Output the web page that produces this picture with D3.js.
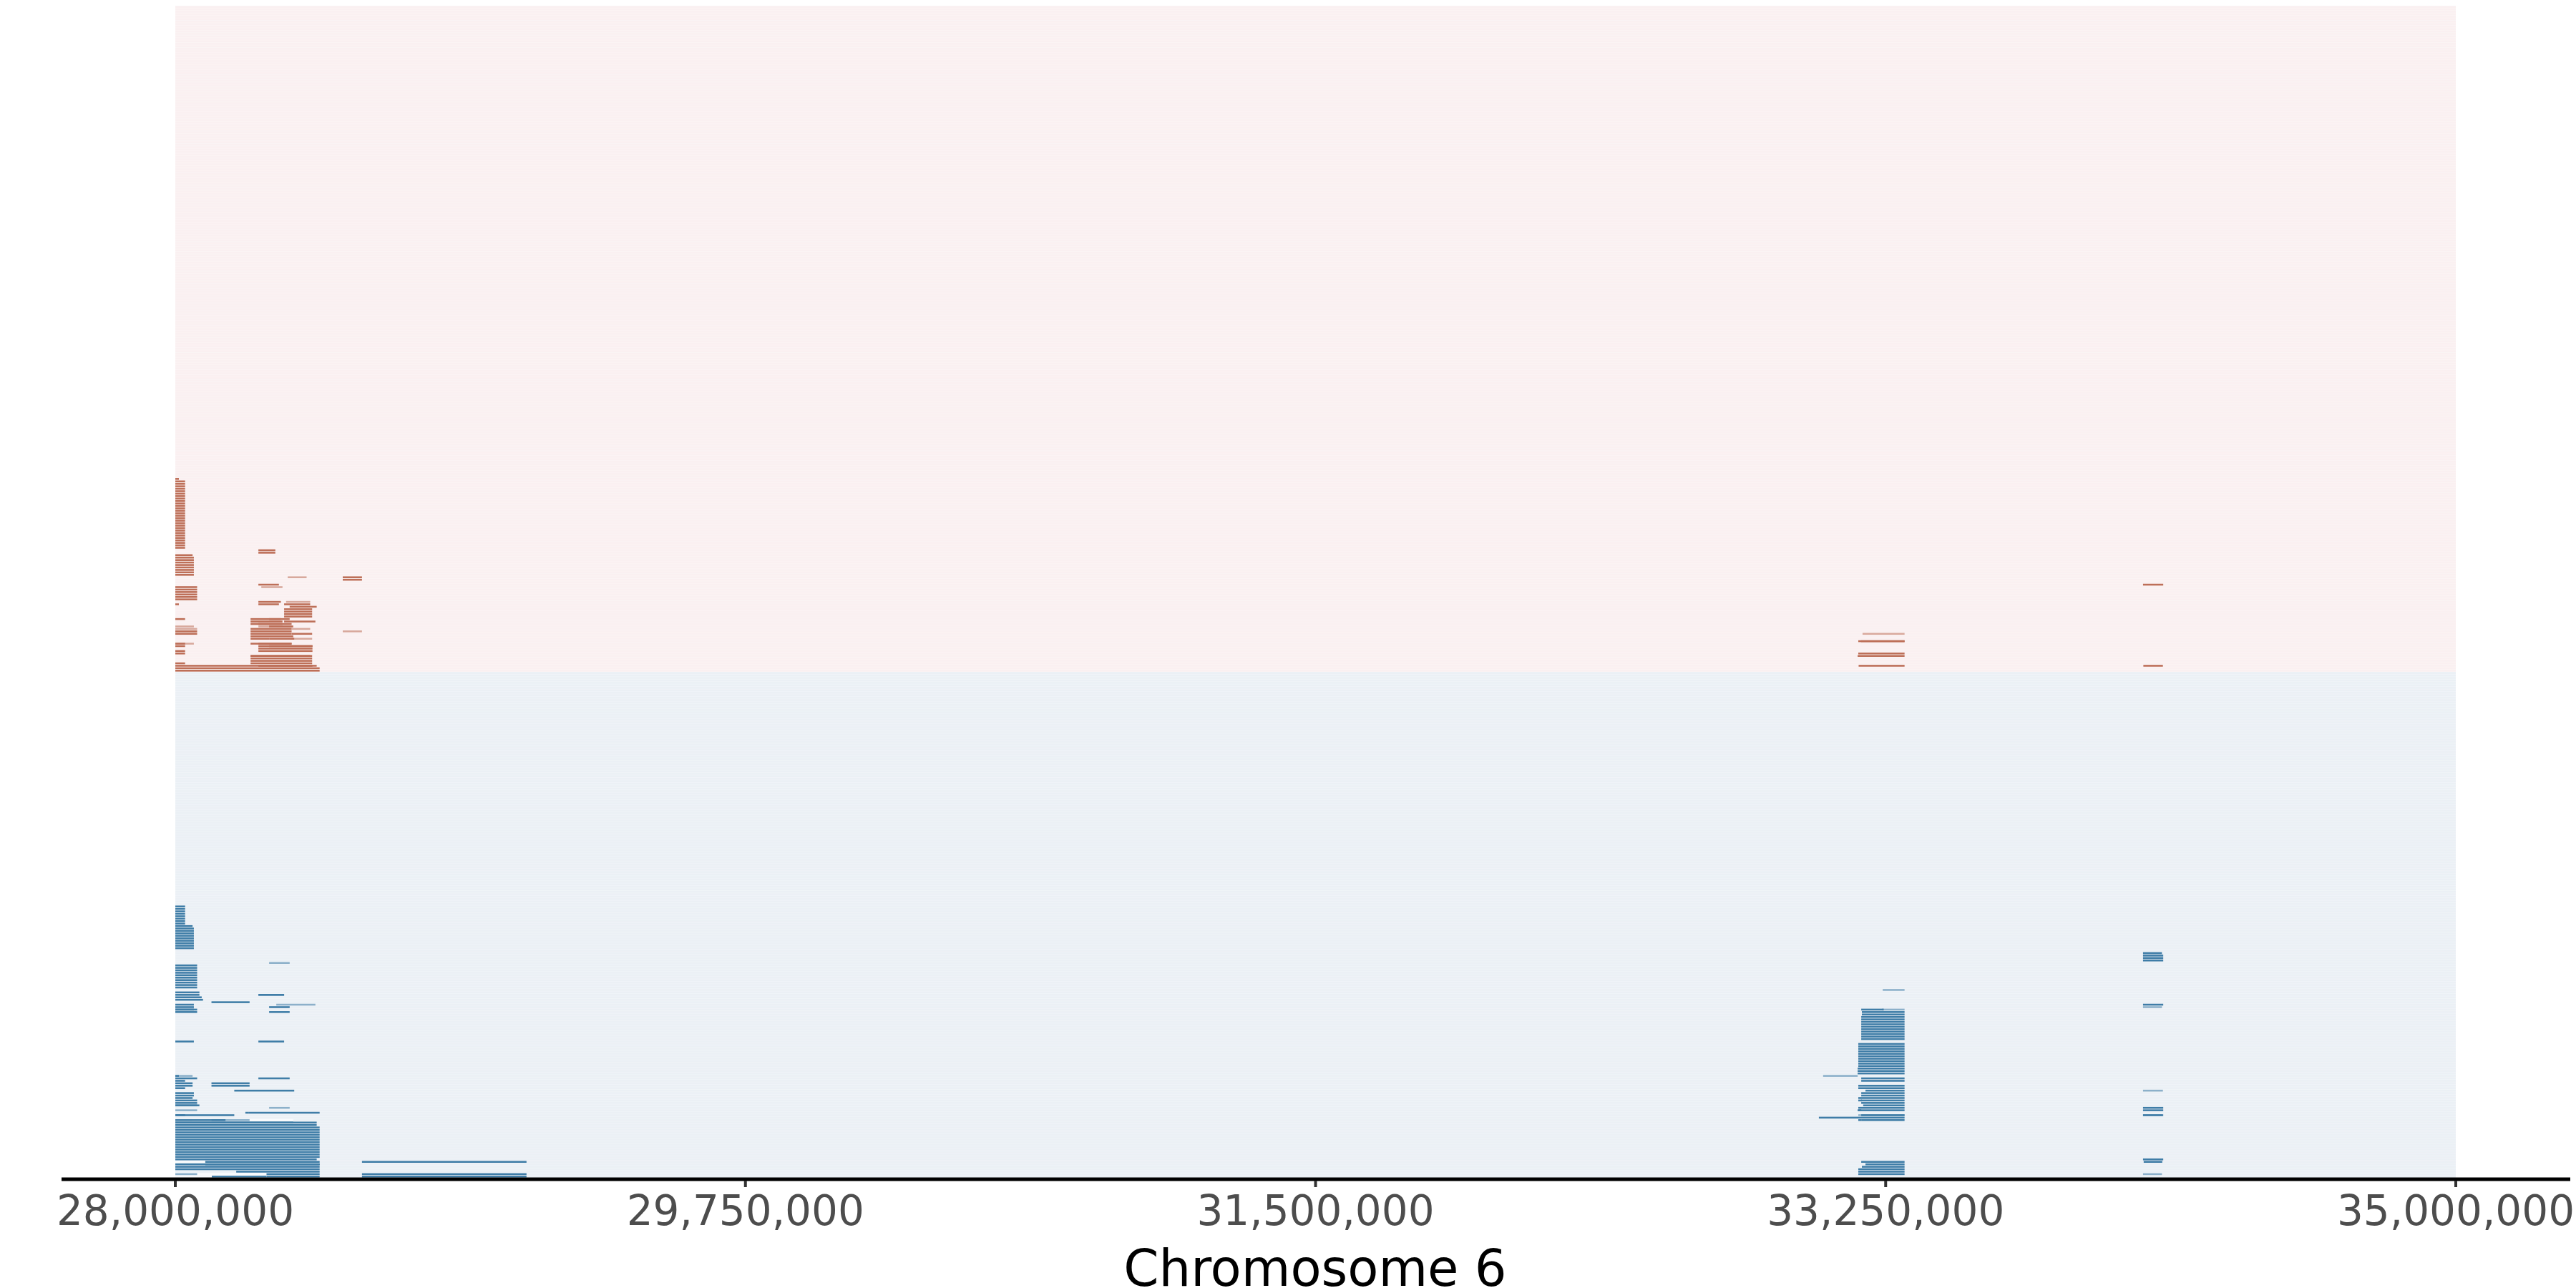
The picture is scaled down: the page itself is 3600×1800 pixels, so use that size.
<!DOCTYPE html>
<html><head><meta charset="utf-8">
<script src="https://cdn.jsdelivr.net/npm/d3@7"></script>
<style>html,body{margin:0;padding:0;background:#fff}svg{display:block}</style>
</head><body><div id="chart"></div>
<script>
// values: [start Mb, end Mb, first row, last row] — row 0 sits at the bottom of its panel
const tickValues = [28, 29.75, 31.5, 33.25, 35];
const axisTitle = "Chromosome 6";
const upperRowCount = 271;
const lowerRowCount = 206;
const upperSegments = [
[28,28.011,78,78],[28,28.030,50,77],[28.255,28.307,48,49],[28,28.053,47,47],[28,28.057,39,46],
[28.514,28.573,37,38],[28.255,28.318,35,35],[28,28.067,29,34],
[28.255,28.324,28,28],[28,28.011,27,27],[28.255,28.318,27,27],[28.334,28.414,27,27],
[28.351,28.434,26,26],[28.334,28.420,22,25],[28,28.030,21,21],[28.288,28.351,21,21],[28.231,28.324,21,21],
[28.334,28.430,20,20],[28.231,28.329,19,20],[28.255,28.357,19,19],[28.288,28.362,18,18],
[28.231,28.357,17,17],[28.231,28.357,16,16],[28,28.067,16,16],
[28,28.067,15,15],[28.231,28.357,15,15],[28.357,28.420,15,15],[28.231,28.362,14,14],[28.288,28.365,13,13],
[28.231,28.288,13,13],[28,28.030,11,11],[28.231,28.357,11,11],
[28.255,28.357,11,11],[28,28.030,10,10],[28.288,28.421,10,10],[28.255,28.421,8,10],[28,28.030,7,8],
[28.231,28.414,6,6],[28.231,28.420,3,6],[28,28.030,3,3],[28.255,28.421,2,2],[28,28.434,2,2],[28,28.443,0,1],
[33.174,33.308,12,12],[33.166,33.308,12,12],[33.166,33.308,7,7],[33.164,33.308,6,6],[33.167,33.308,2,2],
[34.041,34.101,2,2],[34.040,34.102,35,35]
];
const upperFaintSegments = [
[28.345,28.403,38,38],[28.264,28.329,34,34],[28.340,28.414,28,28],[28,28.057,18,18],[28.255,28.357,18,18],
[28,28.067,17,17],[28.357,28.414,17,17],[28.514,28.573,16,16],[28.357,28.420,13,13],[28,28.057,11,11],
[33.179,33.308,15,15]
];
const lowerGaps = [
[28.053,28.111,23,23],[28.228,28.362,23,23],[28,28.092,6,7],[28.067,28.187,1,1],[28.187,28.280,1,1],[28,28.112,0,0]
];
const lowerSegments = [
[28,28.030,103,110],[28,28.053,102,102],[28,28.057,93,101],[28,28.067,77,86],
[28,28.074,74,75],[28.255,28.334,74,74],[28,28.081,73,73],[28,28.085,72,72],[28.111,28.228,71,71],
[28,28.057,70,70],[28.288,28.351,69,69],[28,28.057,69,69],[28,28.067,68,68],[28,28.057,68,68],
[28,28.067,67,67],[28.288,28.351,67,67],
[28,28.057,55,55],[28.255,28.334,55,55],[28,28.011,41,41],[28,28.067,40,40],[28.255,28.351,40,40],
[28,28.030,39,39],[28,28.053,37,38],[28.111,28.228,37,38],[28,28.030,36,36],[28.181,28.365,35,35],[28,28.057,33,34],
[28,28.053,32,32],[28,28.067,31,31],[28,28.067,29,30],[28,28.074,29,29],
[28.226,28.443,26,26],[28.215,28.226,26,26],[28,28.030,25,25],[28,28.181,25,25],[28,28.154,23,23],
[28,28.362,22,22],[28,28.434,21,22],[28,28.443,8,20],[28,28.434,7,7],[28.092,28.443,5,6],[28,28.443,3,5],
[28.187,28.443,2,2],[28.280,28.443,0,1],[28.112,28.280,0,0],
[28.573,29.078,6,6],[28.573,29.078,0,1],
[33.175,33.244,68,68],[33.177,33.308,66,67],[33.175,33.308,56,65],
[33.166,33.308,45,54],[33.164,33.308,42,44],[33.175,33.308,40,40],
[33.175,33.308,39,39],[33.166,33.308,36,37],[33.188,33.308,35,35],[33.175,33.308,33,34],[33.166,33.308,32,32],
[33.175,33.308,30,31],[33.166,33.177,31,31],[33.181,33.308,29,29],[33.166,33.308,27,28],[33.164,33.175,27,27],
[33.175,33.308,25,25],[33.045,33.308,24,24],[33.166,33.175,23,23],[33.175,33.308,23,23],
[33.175,33.308,6,6],[33.188,33.308,5,5],[33.177,33.308,4,4],[33.166,33.308,2,3],[33.166,33.308,1,1],
[34.040,34.098,91,91],[34.040,34.102,88,90],[34.040,34.102,70,70],
[34.040,34.102,28,28],[34.040,34.102,27,27],[34.040,34.102,25,25],[34.040,34.102,7,7],
[34.042,34.099,6,6]
];
const lowerFaintSegments = [
[28.288,28.351,87,87],[28.255,28.334,74,74],[28.310,28.430,70,70],[28,28.053,41,41],[28.288,28.351,28,28],
[28,28.067,27,27],[28,28.067,1,1],[28.111,28.228,23,23],[33.058,33.164,41,41],[33.239,33.308,68,68],
[33.241,33.308,76,76],[33.166,33.308,25,25],[34.040,34.098,69,69],[34.040,34.101,35,35],
[34.040,34.098,25,25],[34.040,34.098,1,1]
];

const svg = d3.select("#chart").append("svg").attr("width",3600).attr("height",1800);
const x = d3.scaleLinear().domain([28,35]).range([245,3432]);
const yUpper = d3.scaleBand().domain(d3.range(upperRowCount).reverse()).range([8,939]).paddingInner(0.25).paddingOuter(0.12);
const yLower = d3.scaleBand().domain(d3.range(lowerRowCount).reverse()).range([939,1646]).paddingInner(0.25).paddingOuter(0.12);

function panel(y, count, segments, faint, gaps, base, rowFill, markFill){
  const g = svg.append("g");
  const [r0,r1] = y.range();
  g.append("rect").attr("x",x(28)).attr("y",r0).attr("width",x(35)-x(28)).attr("height",r1-r0).attr("fill",base);
  g.append("g").selectAll("rect").data(d3.range(count)).join("rect")
    .attr("x",x(28)).attr("width",x(35)-x(28)).attr("y",d=>y(d)).attr("height",y.bandwidth()).attr("fill",rowFill);
  const step = y.step();
  g.append("g").selectAll("rect").data(gaps).join("rect")
    .attr("x",d=>x(d[0])).attr("width",d=>x(d[1])-x(d[0]))
    .attr("y",d=>y(d[3])-step*0.12).attr("height",d=>y(d[2])-y(d[3])+step)
    .attr("fill","#f8fafc");
  const expand = list => list.flatMap(d=>d3.range(d[2],d[3]+1).map(r=>[d[0],d[1],r]));
  const draw = (list, opacity) => g.append("g").attr("opacity",opacity).selectAll("rect").data(expand(list)).join("rect")
    .attr("x",d=>x(d[0])).attr("width",d=>x(d[1])-x(d[0]))
    .attr("y",d=>y(d[2])).attr("height",y.bandwidth()).attr("fill",markFill);
  draw(faint, 0.55);
  draw(segments, 1);
}
panel(yUpper, upperRowCount, upperSegments, upperFaintSegments, [], "#fbf4f4", "#faf0f1", "#bd6f58");
panel(yLower, lowerRowCount, lowerSegments, lowerFaintSegments, lowerGaps, "#f0f4f8", "#ebf0f5", "#3f7da7");

const axis = svg.append("g");
axis.append("line").attr("x1",86).attr("x2",3592).attr("y1",1648).attr("y2",1648).attr("stroke","#000").attr("stroke-width",5);
axis.selectAll("line.tick").data(tickValues).join("line").attr("class","tick")
  .attr("x1",d=>x(d)).attr("x2",d=>x(d)).attr("y1",1650).attr("y2",1659)
  .attr("stroke","#333").attr("stroke-width",4);
axis.selectAll("text.tick").data(tickValues).join("text").attr("class","tick")
  .attr("x",d=>x(d)).attr("y",1712).attr("text-anchor","middle")
  .attr("font-family","DejaVu Sans").attr("font-size",58).attr("fill","#4d4d4d")
  .text(d=>d3.format(",")(d*1e6));
svg.append("text").attr("x",1838).attr("y",1797).attr("text-anchor","middle")
  .attr("font-family","DejaVu Sans").attr("font-size",70.5).attr("fill","#000").text(axisTitle);
</script></body></html>
